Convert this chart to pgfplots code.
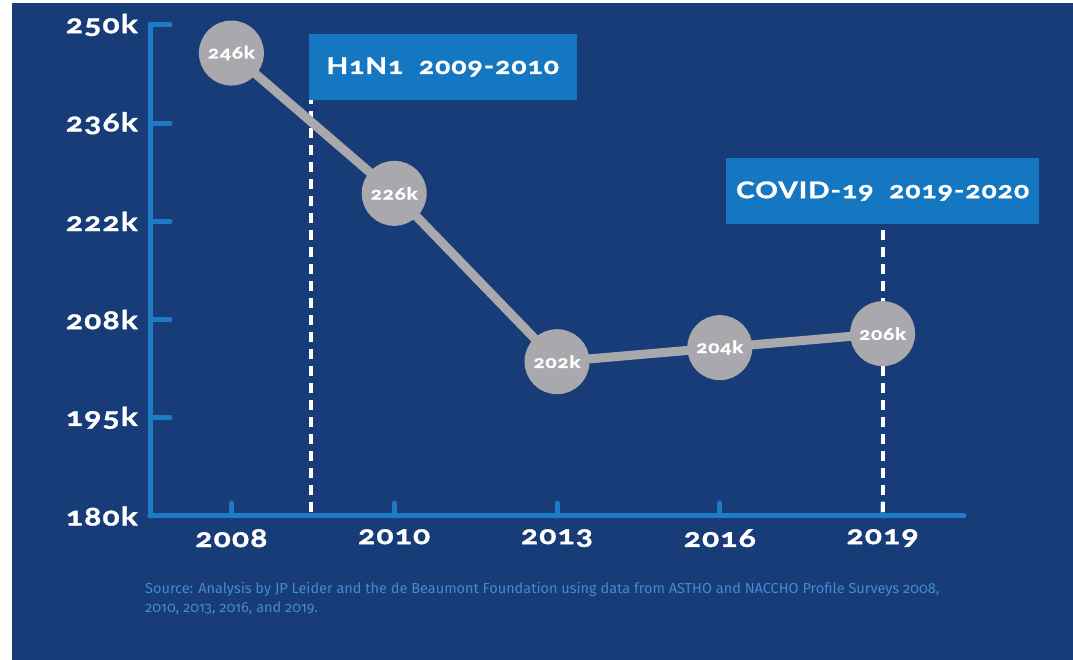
\documentclass[border=0pt]{standalone}
\usepackage{fontspec}
\setmainfont{Fira Sans}[Numbers=OldStyle]
\newfontfamily\labfam{Lato Bold}[Numbers=OldStyle, FakeStretch=1.22, FakeBold=1.3, LetterSpace=4.5]
\newfontfamily\srcfam{Fira Sans}[Numbers=OldStyle]
\usepackage{pgfplots}
\pgfplotsset{compat=1.18}
\definecolor{bg}{HTML}{173C78}
\definecolor{axc}{HTML}{1E7BC6}
\definecolor{boxc}{HTML}{1577C2}
\definecolor{dotc}{HTML}{A9A9AD}
\definecolor{srcc}{HTML}{4589D0}
\newcommand{\bigfont}{\labfam\fontsize{26}{28}\selectfont}
\newcommand{\boxfont}{\labfam\fontsize{23}{25}\selectfont}
\newcommand{\dotfont}{\labfam\fontsize{17}{18}\selectfont}
\begin{document}
\begin{tikzpicture}[x=1pt,y=1pt]
\fill[white] (0,0) rectangle (1073,660);
\fill[bg] (12,0) rectangle (1073,657);
\begin{axis}[
  at={(150pt,144pt)}, anchor=south west,
  scale only axis, width=814pt, height=491pt,
  xmin=-0.5, xmax=4.5, ymin=180, ymax=250,
  clip=false,
  axis x line=bottom, axis y line=left,
  axis line style={axc, line width=5pt, -, line cap=round},
  tick align=inside,
  xtick={0,1,2,3,4},
  xticklabels={2008,2010,2013,2016,2019},
  ytick={180,194,208,222,236,250},
  yticklabels={180k,195k,208k,222k,236k,250k},
  every tick/.style={axc, line width=5pt, line cap=round},
  xtick style={/pgfplots/major tick length=13pt},
  ytick style={/pgfplots/major tick length=20pt},
  ticklabel style={text=white, font=\bigfont},
  yticklabel style={anchor=east, inner sep=0pt, xshift=-12pt},
  xticklabel style={anchor=north, inner sep=0pt, yshift=-13pt},
]
\addplot[white, line width=4pt, dash pattern=on 10pt off 7pt] coordinates {(0.49,180.5) (0.49,239.3)};
\addplot[white, line width=4pt, dash pattern=on 10pt off 7pt] coordinates {(4,180.5) (4,221.6)};
\addplot[dotc, line width=9pt, mark=*, mark size=28pt,
  mark options={fill=dotc, draw=none},
  nodes near coords, point meta=explicit symbolic,
  every node near coord/.append style={anchor=center, text=white, font=\dotfont}]
  coordinates {(0,246)[246k] (1,226)[226k] (2,202)[202k] (3,204)[204k] (4,206)[206k]};
\node[anchor=south west, fill=boxc, text=white, font=\boxfont, minimum width=268pt, minimum height=66pt, inner sep=0pt]
  at (axis cs:0.474,239.3) {H1N1\ \ 2009-2010};
\node[anchor=south, fill=boxc, text=white, font=\boxfont, minimum width=313pt, minimum height=66pt, inner sep=0pt]
  at (axis cs:4,221.6) {COVID-19\ \ 2019-2020};
\end{axis}
\node[anchor=north west, inner sep=0pt, text=srcc, font=\srcfam\fontsize{14.5}{19}\selectfont, align=left] at (145,78)
  {Source: Analysis by JP Leider and the de Beaumont Foundation using data from ASTHO and NACCHO Profile Surveys 2008,\\2010, 2013, 2016, and 2019.};
\end{tikzpicture}
\end{document}
